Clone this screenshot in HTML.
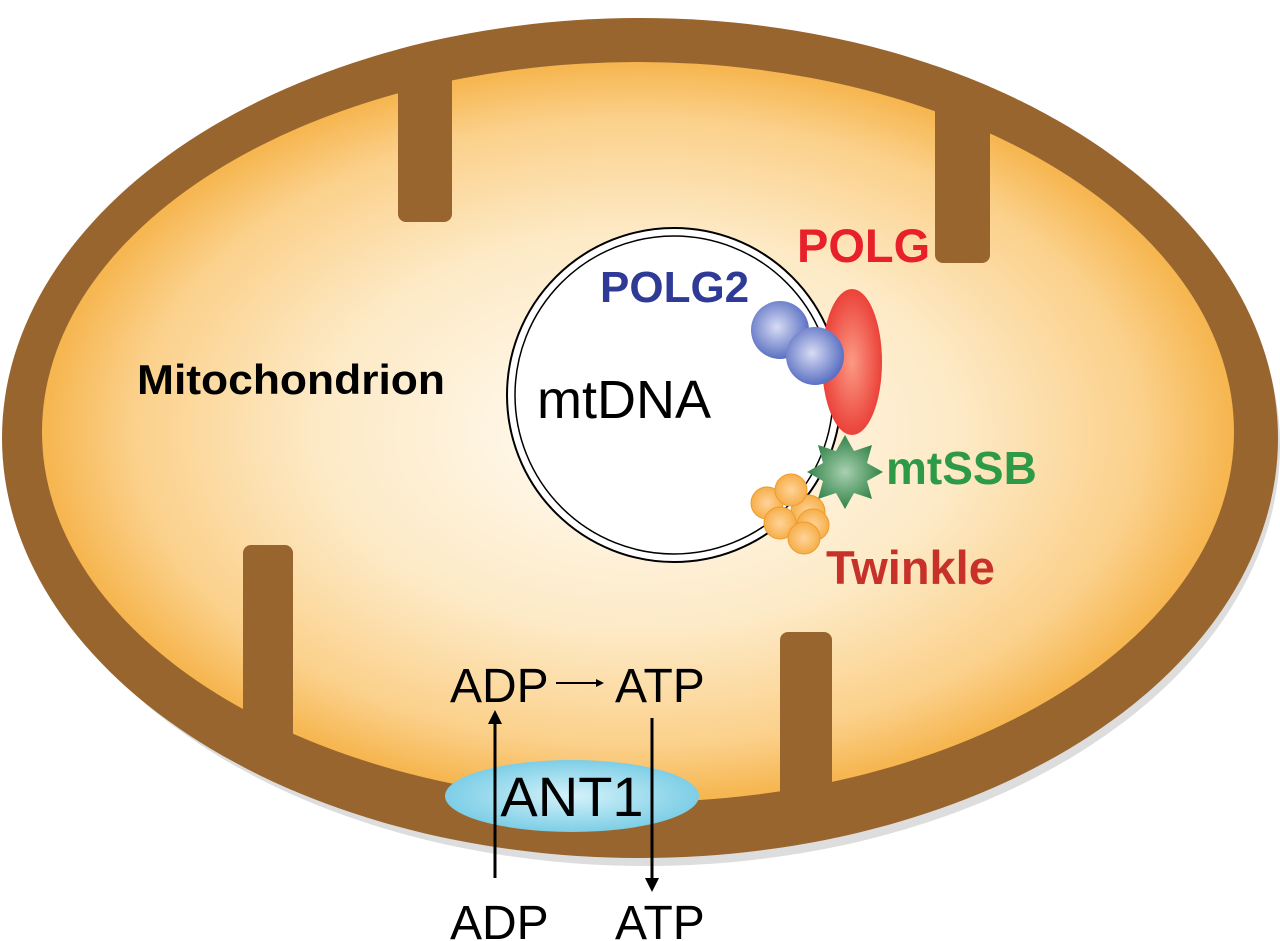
<!DOCTYPE html>
<html><head><style>body{margin:0;background:#fff}svg{display:block}</style></head><body>
<svg width="1280" height="941" viewBox="0 0 1280 941" xmlns="http://www.w3.org/2000/svg" font-family="Liberation Sans, Arial, sans-serif">
<defs>
<radialGradient id="g" cx="0.5" cy="0.5" r="0.5">
<stop offset="0" stop-color="#fffdf8"/><stop offset="0.55" stop-color="#fde9c4"/><stop offset="0.85" stop-color="#fbd08a"/><stop offset="1" stop-color="#f6b54e"/></radialGradient>
<radialGradient id="bl" cx="0.45" cy="0.45" r="0.6"><stop offset="0" stop-color="#d8dcf4"/><stop offset="1" stop-color="#4f66be"/></radialGradient>
<radialGradient id="rd" cx="0.5" cy="0.5" r="0.6"><stop offset="0" stop-color="#fb9a84"/><stop offset="1" stop-color="#e8302a"/></radialGradient>
<radialGradient id="gr" cx="0.5" cy="0.5" r="0.6"><stop offset="0" stop-color="#a8d0b0"/><stop offset="1" stop-color="#1a7333"/></radialGradient>
<radialGradient id="or" cx="0.5" cy="0.5" r="0.6"><stop offset="0" stop-color="#ffd49a"/><stop offset="1" stop-color="#f4a73a"/></radialGradient>
<radialGradient id="cy" cx="0.5" cy="0.5" r="0.6"><stop offset="0" stop-color="#d4f2fa"/><stop offset="1" stop-color="#6cc7e2"/></radialGradient>
<clipPath id="cl"><ellipse cx="640" cy="438" rx="638" ry="420"/></clipPath>
<marker id="a" markerWidth="8" markerHeight="8" refX="6" refY="4" orient="auto" markerUnits="userSpaceOnUse"><path d="M0,0 L8,4 L0,8 z" fill="#000"/></marker>
<marker id="b" markerWidth="14" markerHeight="14" refX="10" refY="7" orient="auto" markerUnits="userSpaceOnUse"><path d="M0,0 L14,7 L0,14 z" fill="#000"/></marker>
</defs>
<ellipse cx="646" cy="446" rx="634" ry="420" fill="#bbb" opacity="0.5"/>
<ellipse cx="640" cy="438" rx="638" ry="420" fill="#98652f"/>
<ellipse cx="638" cy="432" rx="596" ry="370" fill="url(#g)"/>
<g clip-path="url(#cl)" fill="#98652f">
<rect x="398" y="10" width="54" height="212" rx="8"/>
<rect x="935" y="20" width="55" height="243" rx="8"/>
<rect x="243" y="545" width="50" height="300" rx="8"/>
<rect x="780" y="632" width="52" height="250" rx="8"/>
</g>
<circle cx="674" cy="395" r="167" fill="#fff" stroke="#000" stroke-width="2"/>
<circle cx="674" cy="395" r="159" fill="none" stroke="#000" stroke-width="1.5"/>
<ellipse cx="852" cy="362" rx="30" ry="73" fill="url(#rd)"/>
<circle cx="780" cy="330" r="29" fill="url(#bl)"/>
<circle cx="815" cy="356" r="29" fill="url(#bl)"/>
<polygon points="845,435 854,451 872,445 867,463 883,472 867,481 872,499 854,493 845,509 836,493 818,499 823,481 807,472 823,463 818,445 836,451" fill="url(#gr)"/>
<g fill="url(#or)" stroke="#f09a2a" stroke-width="1">
<circle cx="808" cy="512" r="17"/><circle cx="813" cy="525" r="16"/><circle cx="767" cy="503" r="16"/><circle cx="791" cy="490" r="16"/><circle cx="780" cy="523" r="16"/><circle cx="804" cy="538" r="16"/></g>
<text x="797" y="262" font-size="47" font-weight="bold" fill="#e8202a">POLG</text>
<text x="600" y="302" font-size="44" font-weight="bold" fill="#2e3a96">POLG2</text>
<text x="537" y="418" font-size="54" fill="#000">mtDNA</text>
<text x="886" y="484" font-size="46" font-weight="bold" fill="#2e9a48">mtSSB</text>
<text x="826" y="584" font-size="47" font-weight="bold" fill="#c8302a">Twinkle</text>
<text x="137" y="394" font-size="42" font-weight="bold" fill="#000" textLength="308" lengthAdjust="spacingAndGlyphs">Mitochondrion</text>
<text x="450" y="702" font-size="48" fill="#000">ADP</text>
<text x="615" y="702" font-size="48" fill="#000">ATP</text>
<line x1="556" y1="683" x2="602" y2="683" stroke="#000" stroke-width="2" marker-end="url(#a)"/>
<line x1="495" y1="878" x2="495" y2="714" stroke="#000" stroke-width="3" marker-end="url(#b)"/>
<line x1="652" y1="718" x2="652" y2="888" stroke="#000" stroke-width="3" marker-end="url(#b)"/>
<ellipse cx="572" cy="796" rx="127" ry="36" fill="url(#cy)"/>
<line x1="495" y1="760" x2="495" y2="878" stroke="#000" stroke-width="3"/>
<line x1="652" y1="760" x2="652" y2="880" stroke="#000" stroke-width="3"/>
<text x="572" y="816" font-size="56" fill="#000" text-anchor="middle">ANT1</text>
<text x="450" y="939" font-size="48" fill="#000">ADP</text>
<text x="615" y="939" font-size="48" fill="#000">ATP</text>
</svg>
</body></html>
